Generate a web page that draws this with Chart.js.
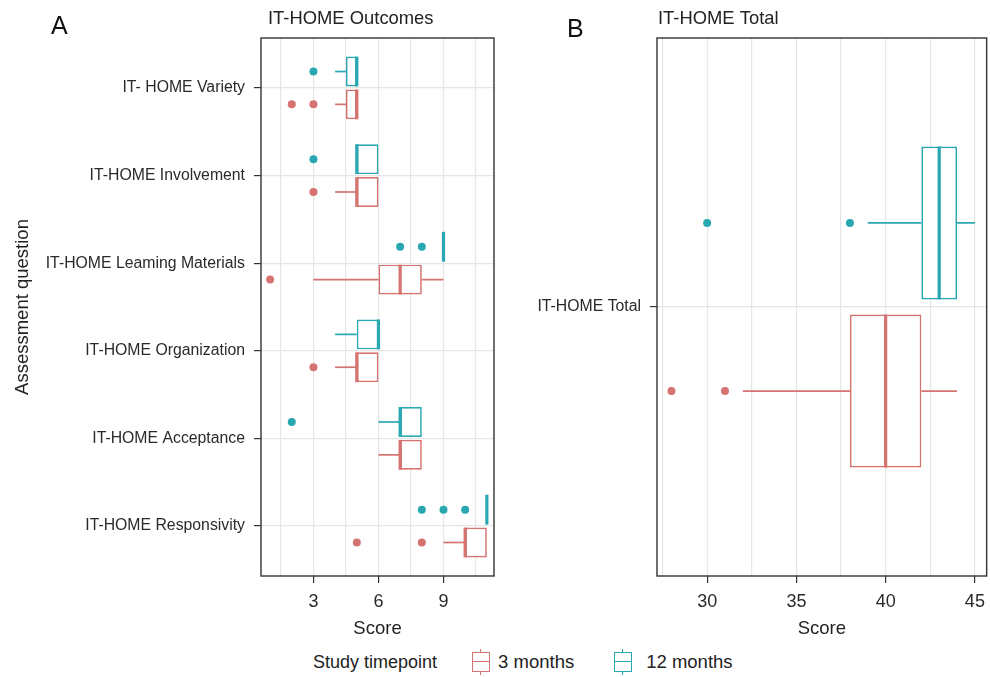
<!DOCTYPE html>
<html>
<head>
<meta charset="utf-8">
<script src="https://cdn.jsdelivr.net/npm/chart.js@4.4.1/dist/chart.umd.min.js"></script>
<style>
  body { margin: 0; background: #fff; font-family: "Liberation Sans", Arial, sans-serif; }
  #wrap { position: relative; width: 990px; height: 677px; overflow: hidden; }
  canvas { position: absolute; top: 0; }
  #cA { left: 0; }
  #cB { left: 510px; }
  .tag { position: absolute; font-size: 25px; line-height: 1; color: #111; }
  #legend { position: absolute; left: 313px; top: 649px; font-size: 18px; line-height: 26px; color: #222;
            display: flex; align-items: center; white-space: nowrap; }
  .key { position: relative; display: inline-block; width: 18px; height: 26px; }
  .key .wh { position: absolute; left: 8px; top: 0; bottom: 0; border-left: 1.5px solid currentColor; }
  .key .bx { position: absolute; left: 0; top: 3px; width: 18px; height: 20px; box-sizing: border-box;
             border: 1.5px solid currentColor; background: #fff; }
  .key .bx::after { content: ''; position: absolute; left: 0; right: 0; top: 7.5px; border-top: 1.5px solid currentColor; }
</style>
</head>
<body>
<div id="wrap">
  <canvas id="cA" width="500" height="645"></canvas>
  <canvas id="cB" width="483" height="645"></canvas>
  <div class="tag" style="left:51px; top:13px;">A</div>
  <div class="tag" style="left:567px; top:16px;">B</div>
  <div id="legend">
    <span>Study timepoint</span>
    <span class="key" style="color:#d4736f; margin-left:35px;"><i class="wh"></i><i class="bx"></i></span>
    <span style="margin-left:8px; font-size:18.5px;">3 months</span>
    <span class="key" style="color:#2aa8b2; margin-left:40px;"><i class="wh"></i><i class="bx"></i></span>
    <span style="margin-left:14px; font-size:18.5px;">12 months</span>
  </div>
</div>
<script>
// panel A: IT-HOME outcomes
const categoriesA = ['IT- HOME Variety', 'IT-HOME Involvement', 'IT-HOME Leaming Materials',
                     'IT-HOME Organization', 'IT-HOME Acceptance', 'IT-HOME Responsivity'];
const xTicksA = [1.5, 3, 4.5, 6, 7.5, 9, 10.5];
const majorA = [3, 6, 9];

// 3 months
const q1_3m  = [4.5, 5, 6, 5, 7, 10];
const med_3m = [5, 5, 7, 5, 7, 10];
const q3_3m  = [5, 6, 8, 6, 8, 11];
const lo_3m  = [4, 4, 3, 4, 6, 9];
const hi_3m  = [5, 6, 9, 6, 8, 11];
const out_3m = [[2, 3], [3], [1], [3], [], [5, 8]];

// 12 months
const q1_12m  = [4.5, 5, 9, 5, 7, 11];
const med_12m = [5, 5, 9, 6, 7, 11];
const q3_12m  = [5, 6, 9, 6, 8, 11];
const lo_12m  = [4, 5, 9, 4, 6, 11];
const hi_12m  = [5, 6, 9, 6, 8, 11];
const out_12m = [[3], [3], [7, 8], [], [2], [8, 9, 10]];

// panel B: IT-HOME total
const categoriesB = ['IT-HOME Total'];
const xTicksB = [27.5, 30, 32.5, 35, 37.5, 40, 42.5, 45];
const majorB = [30, 35, 40, 45];
const totalQ1  = { m3: [38], m12: [42] };
const totalMed = { m3: [40], m12: [43] };
const totalQ3  = { m3: [42], m12: [44] };
const totalLo  = { m3: [32], m12: [39] };
const totalHi  = { m3: [44], m12: [45] };
const totalOut = { m3: [[28, 31]], m12: [[30, 38]] };

const RED = '#d4736f';
const TEAL = '#2aa8b2';
const GRID = '#e6e6e6';
Chart.defaults.font.family = '"Liberation Sans", Arial, sans-serif';

// whiskers, medians and outliers on top of the floating bars
const boxPlugin = {
  id: 'boxDetails',
  beforeDatasetsDraw(chart) {
    const ctx = chart.ctx, xs = chart.scales.x;
    chart.data.datasets.forEach((ds, di) => {
      chart.getDatasetMeta(di).data.forEach((bar, i) => {
        const [q1, q3] = ds.data[i].x;
        ctx.save();
        ctx.strokeStyle = ds.borderColor;
        ctx.lineWidth = 1.7;
        ctx.beginPath();
        if (ds.lo[i] < q1) { ctx.moveTo(xs.getPixelForValue(ds.lo[i]), bar.y); ctx.lineTo(xs.getPixelForValue(q1), bar.y); }
        if (ds.hi[i] > q3) { ctx.moveTo(xs.getPixelForValue(q3), bar.y); ctx.lineTo(xs.getPixelForValue(ds.hi[i]), bar.y); }
        ctx.stroke();
        ctx.restore();
      });
    });
  },
  afterDatasetsDraw(chart) {
    const ctx = chart.ctx, xs = chart.scales.x;
    chart.data.datasets.forEach((ds, di) => {
      chart.getDatasetMeta(di).data.forEach((bar, i) => {
        const h = bar.height;
        const mx = xs.getPixelForValue(ds.med[i]);
        ctx.save();
        ctx.strokeStyle = ds.borderColor;
        ctx.lineWidth = 3.2;
        ctx.beginPath();
        ctx.moveTo(mx, bar.y - h / 2);
        ctx.lineTo(mx, bar.y + h / 2);
        ctx.stroke();
        ctx.fillStyle = ds.borderColor;
        ds.out[i].forEach(v => {
          ctx.beginPath();
          ctx.arc(xs.getPixelForValue(v), bar.y, 4, 0, Math.PI * 2);
          ctx.fill();
        });
        ctx.restore();
      });
    });
  }
};

// panel border and panel title
const framePlugin = {
  id: 'frame',
  afterDraw(chart, args, opts) {
    const { ctx, chartArea: a } = chart;
    ctx.save();
    ctx.strokeStyle = '#333';
    ctx.lineWidth = 1.4;
    ctx.strokeRect(a.left, a.top, a.right - a.left, a.bottom - a.top);
    ctx.fillStyle = '#222';
    ctx.font = '18.4px "Liberation Sans", Arial, sans-serif';
    ctx.textBaseline = 'alphabetic';
    ctx.fillText(opts.title, opts.titleX, 24);
    ctx.restore();
  }
};

function boxDataset(label, color, cats, q1, q3, med, lo, hi, out, catPct) {
  return {
    label: label,
    data: cats.map((c, i) => ({ x: [q1[i], q3[i]], y: i })),
    med: med, lo: lo, hi: hi, out: out,
    borderColor: color,
    backgroundColor: '#ffffff',
    borderWidth: 1.7,
    borderSkipped: false,
    categoryPercentage: catPct,
    barPercentage: 0.91
  };
}

function makeChart(el, cfg) {
  return new Chart(document.getElementById(el), {
    type: 'bar',
    data: { datasets: cfg.datasets },
    options: {
      indexAxis: 'y',
      responsive: false,
      animation: false,
      events: [],
      layout: { padding: { top: 38, right: cfg.padRight, left: 0, bottom: 0 } },
      plugins: {
        legend: { display: false },
        tooltip: { enabled: false },
        frame: { title: cfg.title, titleX: cfg.titleX }
      },
      scales: {
        x: {
          type: 'linear', min: cfg.xMin, max: cfg.xMax,
          afterBuildTicks: s => { s.ticks = cfg.xTicks.map(v => ({ value: v })); },
          afterFit: s => { s.height = 69; },
          border: { display: false },
          grid: {
            color: GRID, lineWidth: 1.2, tickLength: 7, tickWidth: 1.2,
            tickColor: c => cfg.major.includes(c.tick.value) ? '#333' : 'rgba(0,0,0,0)'
          },
          ticks: {
            callback: v => cfg.major.includes(v) ? String(v) : '',
            font: { size: 18 }, color: '#2a2a2a', padding: 8, maxRotation: 0, autoSkip: false
          },
          title: { display: true, text: 'Score', font: { size: 18.5 }, color: '#222', padding: { top: 0, bottom: 5 } }
        },
        y: {
          type: 'linear', min: cfg.yMin, max: cfg.yMax, reverse: true, offset: false,
          afterBuildTicks: s => { s.ticks = cfg.cats.map((c, i) => ({ value: i })); },
          afterFit: s => { s.width = cfg.yWidth; },
          border: { display: false },
          grid: { offset: false, color: GRID, lineWidth: 1.2, tickLength: 7, tickWidth: 1.2, tickColor: '#333' },
          ticks: {
            callback: v => cfg.cats[Math.round(v)],
            font: { size: 15.8 }, color: '#2a2a2a', padding: 9, autoSkip: false
          },
          title: {
            display: cfg.yTitle !== '', text: cfg.yTitle, font: { size: 18.5 }, color: '#222',
            padding: { top: 12, bottom: 0 }
          }
        }
      }
    },
    plugins: [boxPlugin, framePlugin]
  });
}

makeChart('cA', {
  cats: categoriesA,
  datasets: [
    boxDataset('12 months', TEAL, categoriesA, q1_12m, q3_12m, med_12m, lo_12m, hi_12m, out_12m, 0.75),
    boxDataset('3 months', RED, categoriesA, q1_3m, q3_3m, med_3m, lo_3m, hi_3m, out_3m, 0.75)
  ],
  xMin: 0.58, xMax: 11.33, xTicks: xTicksA, major: majorA,
  yMin: -0.57, yMax: 5.57, yWidth: 261, yTitle: 'Assessment question',
  padRight: 6, title: 'IT-HOME Outcomes', titleX: 268
});

makeChart('cB', {
  cats: categoriesB,
  datasets: [
    boxDataset('12 months', TEAL, categoriesB, totalQ1.m12, totalQ3.m12, totalMed.m12, totalLo.m12, totalHi.m12, totalOut.m12, 0.625),
    boxDataset('3 months', RED, categoriesB, totalQ1.m3, totalQ3.m3, totalMed.m3, totalLo.m3, totalHi.m3, totalOut.m3, 0.625)
  ],
  xMin: 27.19, xMax: 45.66, xTicks: xTicksB, major: majorB,
  yMin: -0.6, yMax: 0.6, yWidth: 147, yTitle: '',
  padRight: 3, title: 'IT-HOME Total', titleX: 148
});
</script>
</body>
</html>
